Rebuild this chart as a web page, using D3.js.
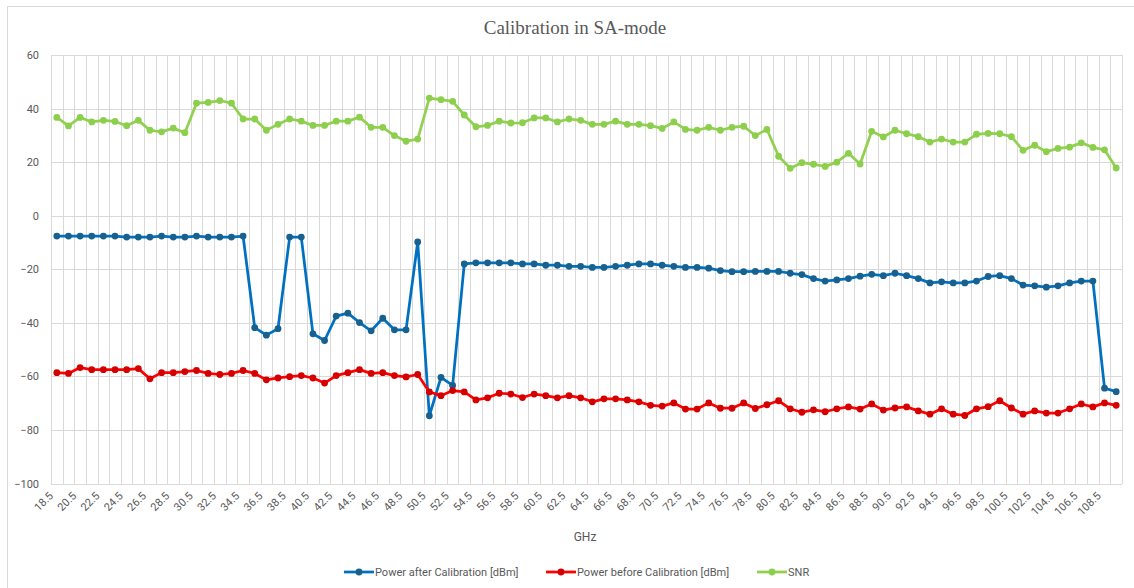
<!DOCTYPE html>
<html>
<head>
<meta charset="utf-8">
<script src="https://cdn.jsdelivr.net/npm/d3@7"></script>
<style>
  html, body { margin: 0; padding: 0; background: #fff; }
  #chart { width: 1134px; height: 588px; }
</style>
</head>
<body>
<div id="chart"></div>
<script>
/* ── Data ─────────────────────────────────────────────────────────── */
const GHZ = [
  '18.5','19.5','20.5','21.5','22.5','23.5','24.5','25.5','26.5','27.5','28.5','29.5',
  '30.5','31.5','32.5','33.5','34.5','35.5','36.5','37.5','38.5','39.5','40.5','41.5',
  '42.5','43.5','44.5','45.5','46.5','47.5','48.5','49.5','50.5','51.5','52.5','53.5',
  '54.5','55.5','56.5','57.5','58.5','59.5','60.5','61.5','62.5','63.5','64.5','65.5',
  '66.5','67.5','68.5','69.5','70.5','71.5','72.5','73.5','74.5','75.5','76.5','77.5',
  '78.5','79.5','80.5','81.5','82.5','83.5','84.5','85.5','86.5','87.5','88.5','89.5',
  '90.5','91.5','92.5','93.5','94.5','95.5','96.5','97.5','98.5','99.5','100.5','101.5',
  '102.5','103.5','104.5','105.5','106.5','107.5','108.5','109.5'
];

const powerAfter = [
  -7.6,-7.6,-7.6,-7.6,-7.6,-7.6,-8,-8,-8,-7.6,-8,-8,
  -7.6,-8,-8,-8,-7.6,-41.8,-44.6,-42.2,-8,-8,-44.1,-46.6,
  -37.5,-36.4,-39.9,-43,-38.3,-42.6,-42.6,-9.8,-74.7,-60.4,-63.4,-18,
  -17.6,-17.6,-17.6,-17.6,-18,-18,-18.5,-18.5,-18.9,-18.9,-19.3,-19.3,
  -18.9,-18.5,-18,-18,-18.5,-18.9,-19.3,-19.3,-19.6,-20.5,-20.9,-20.9,
  -20.8,-20.8,-20.8,-21.5,-22,-23.5,-24.4,-24,-23.5,-22.6,-21.9,-22.4,
  -21.5,-22.4,-23.5,-25.1,-24.7,-25.1,-25.1,-24.4,-22.7,-22.4,-23.5,-25.9,
  -26.2,-26.7,-26.2,-25.1,-24.4,-24.4,-64.4,-65.7
];

const powerBefore = [
  -58.6,-58.9,-56.7,-57.5,-57.5,-57.5,-57.5,-57.1,-60.9,-58.6,-58.6,-58.2,
  -57.8,-58.9,-59.3,-58.9,-57.8,-58.9,-61.3,-60.6,-60.1,-59.7,-60.6,-62.5,
  -59.7,-58.6,-57.5,-58.9,-58.6,-59.7,-60.2,-59.3,-65.8,-67.2,-65.3,-65.8,
  -68.8,-68,-66.3,-66.6,-67.9,-66.6,-67.2,-68,-67.2,-68,-69.5,-68.4,
  -68.4,-68.8,-69.5,-70.8,-71.1,-69.9,-72.2,-72.2,-69.9,-71.9,-71.9,-69.9,
  -72,-70.6,-69.1,-72.1,-73.4,-72.5,-73.2,-72.1,-71.4,-72.2,-70.3,-72.6,
  -71.8,-71.4,-72.9,-74.1,-72.1,-74.1,-74.6,-72.1,-71.3,-69.1,-71.8,-74.1,
  -72.9,-73.7,-73.7,-72.1,-70.3,-71.4,-69.9,-70.8
];

const snr = [
  36.7,33.5,36.7,35,35.6,35.2,33.6,35.6,31.9,31.3,32.7,31,
  42,42.3,43,42,36.1,36.1,31.9,34.1,36.1,35.3,33.7,33.7,
  35.3,35.3,36.8,33,33,29.9,27.8,28.6,43.9,43.3,42.7,37.6,
  33.2,33.7,35.3,34.6,34.7,36.5,36.5,35,36.1,35.6,34.1,34.1,
  35.3,34.1,34.1,33.6,32.6,35,32.2,31.9,33,31.9,33,33.4,
  29.9,32.2,22.2,17.7,19.8,19.2,18.4,20,23.3,19.3,31.5,29.4,
  31.9,30.6,29.5,27.5,28.6,27.5,27.5,30.4,30.7,30.6,29.5,24.4,
  26.3,23.9,25.1,25.6,27.2,25.5,24.6,17.8
];

const Y_TICKS = [-100, -80, -60, -40, -20, 0, 20, 40, 60];

const SERIES = [
  { name: 'Power after Calibration [dBm]',  values: powerAfter,  line: '#0070c0', dot: '#18618f' },
  { name: 'Power before Calibration [dBm]', values: powerBefore, line: '#ff0000', dot: '#d40000' },
  { name: 'SNR',                            values: snr,         line: '#92d050', dot: '#8ccf4d' }
];

const TEXT = '#595959';
const GRID = '#d9d9d9';
const FONT = 'Roboto, "Liberation Sans", sans-serif';

/* ── Scaffold ─────────────────────────────────────────────────────── */
const W = 1134, H = 588;
const plot = { left: 51, right: 1122, top: 55, bottom: 483.5 };

const svg = d3.select('#chart').append('svg')
  .attr('width', W).attr('height', H)
  .attr('viewBox', `0 0 ${W} ${H}`);

// chart-area frame (runs off the right/bottom edge like the source)
svg.append('rect')
  .attr('x', 7.5).attr('y', 6.5)
  .attr('width', 1200).attr('height', 700)
  .attr('fill', '#fff').attr('stroke', GRID).attr('stroke-width', 1);

/* ── Scales ───────────────────────────────────────────────────────── */
const x = d3.scaleBand().domain(GHZ).range([plot.left, plot.right]).padding(0);
const y = d3.scaleLinear().domain([-100, 60]).range([plot.bottom, plot.top]);
const cx = c => x(c) + x.bandwidth() / 2;

/* ── Grid ─────────────────────────────────────────────────────────── */
const grid = svg.append('g').attr('shape-rendering', 'crispEdges');

grid.selectAll('line.h').data(Y_TICKS).join('line')
  .attr('class', 'h')
  .attr('x1', plot.left).attr('x2', plot.right)
  .attr('y1', d => Math.round(y(d)) + 0.5).attr('y2', d => Math.round(y(d)) + 0.5)
  .attr('stroke', GRID);

// category boundaries, plus the closing right edge
grid.selectAll('line.v').data(GHZ.concat([null])).join('line')
  .attr('class', 'v')
  .attr('x1', d => Math.round(d === null ? plot.right : x(d)) + 0.5)
  .attr('x2', d => Math.round(d === null ? plot.right : x(d)) + 0.5)
  .attr('y1', plot.top).attr('y2', plot.bottom)
  .attr('stroke', GRID);

/* ── Axes ─────────────────────────────────────────────────────────── */
const yAxis = svg.append('g')
  .attr('transform', `translate(${plot.left},0)`)
  .call(d3.axisLeft(y).tickValues(Y_TICKS).tickSize(0).tickPadding(12));
yAxis.select('.domain').remove();
yAxis.selectAll('text')
  .attr('fill', TEXT).attr('font-family', FONT).attr('font-size', '11px');

// every other category gets a rotated label
svg.append('g').selectAll('text')
  .data(GHZ.filter((d, i) => i % 2 === 0))
  .join('text')
  .attr('transform', d => `translate(${cx(d) - 3},${plot.bottom + 13}) rotate(-45)`)
  .attr('text-anchor', 'end')
  .attr('fill', TEXT).attr('font-family', FONT).attr('font-size', '11px')
  .text(d => d);

/* ── Titles ───────────────────────────────────────────────────────── */
svg.append('text')
  .attr('x', 575).attr('y', 34)
  .attr('text-anchor', 'middle')
  .attr('fill', TEXT)
  .attr('font-family', '"Liberation Serif", "DejaVu Serif", serif')
  .attr('font-size', '19px')
  .text('Calibration in SA-mode');

svg.append('text')
  .attr('x', 585).attr('y', 541)
  .attr('text-anchor', 'middle')
  .attr('fill', TEXT).attr('font-family', FONT).attr('font-size', '12px')
  .text('GHz');

/* ── Series ───────────────────────────────────────────────────────── */
const line = d3.line().x((v, i) => cx(GHZ[i])).y(v => y(v));

SERIES.forEach(s => {
  const g = svg.append('g');
  g.append('path').datum(s.values)
    .attr('d', line)
    .attr('fill', 'none')
    .attr('stroke', s.line)
    .attr('stroke-width', 2.75)
    .attr('stroke-linejoin', 'round');

  g.selectAll('circle').data(s.values).join('circle')
    .attr('cx', (v, i) => cx(GHZ[i]))
    .attr('cy', v => y(v))
    .attr('r', 3.4)
    .attr('fill', s.dot);
});

/* ── Legend ───────────────────────────────────────────────────────── */
const LEGEND_X = [344, 546, 757];
const legend = svg.append('g');
SERIES.forEach((s, i) => {
  const g = legend.append('g').attr('transform', `translate(${LEGEND_X[i]},572)`);
  g.append('line')
    .attr('x1', 0).attr('x2', 30).attr('y1', 0).attr('y2', 0)
    .attr('stroke', s.line).attr('stroke-width', 2.75);
  g.append('circle').attr('cx', 15).attr('cy', 0).attr('r', 3.4).attr('fill', s.dot);
  g.append('text')
    .attr('x', 31).attr('y', 4)
    .attr('fill', TEXT).attr('font-family', FONT).attr('font-size', '11px')
    .text(s.name);
});
</script>
</body>
</html>
